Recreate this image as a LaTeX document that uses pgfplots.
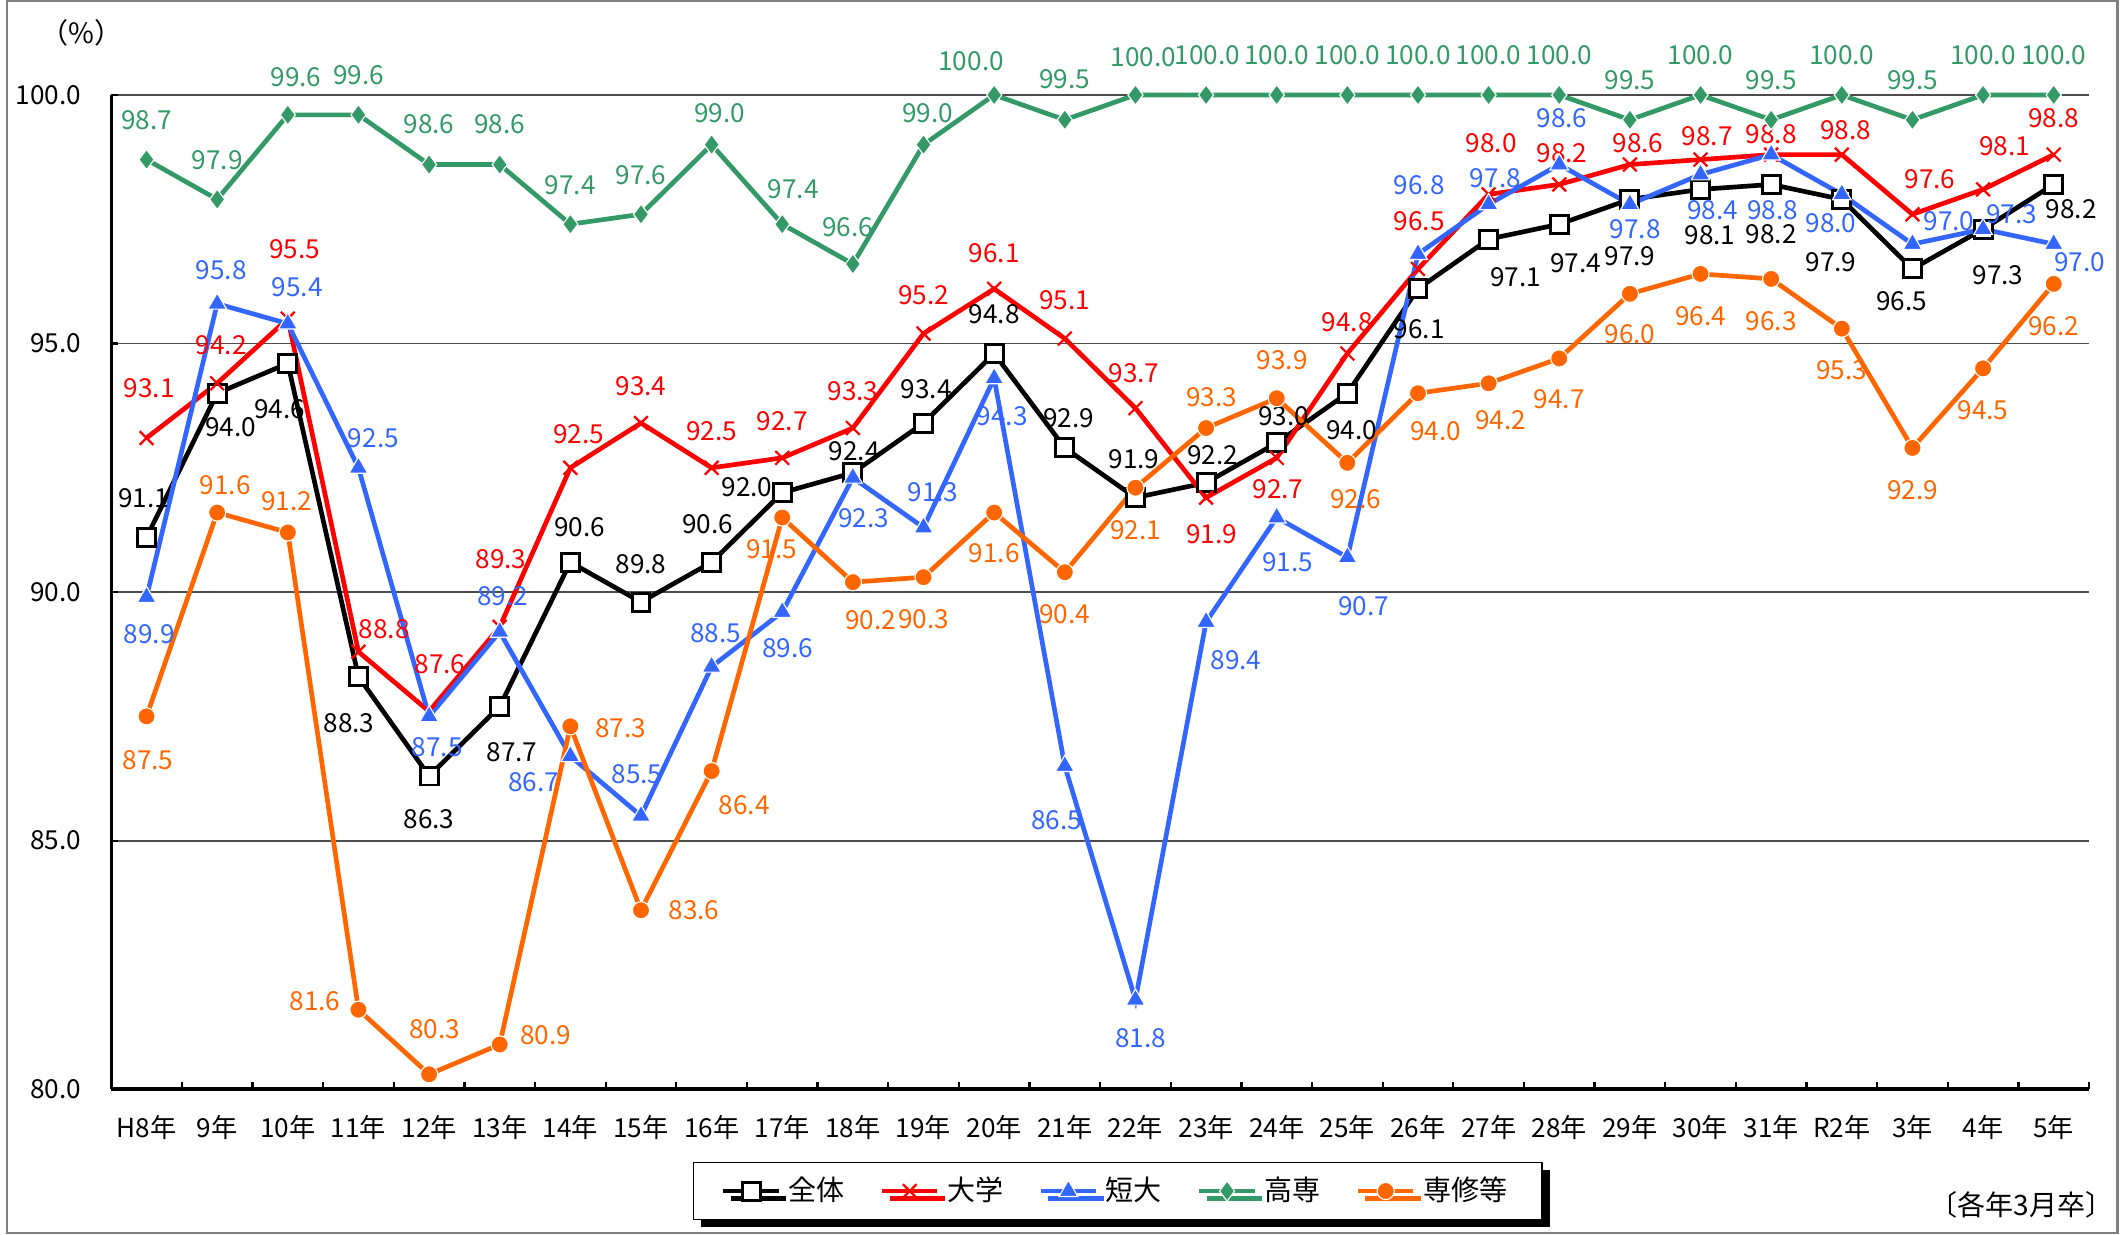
\documentclass[border=0pt]{standalone}
\usepackage{fontspec}
\setmainfont{Noto Sans CJK JP}
\usepackage{pgfplots}
\usepackage{pgfplotstable}
\pgfplotsset{compat=1.18}
\usetikzlibrary{shadows}
\definecolor{cRed}{HTML}{FF0000}
\definecolor{cBlue}{HTML}{3366FF}
\definecolor{cGreen}{HTML}{339966}
\definecolor{cOrange}{HTML}{FF6600}

\pgfplotstableread{
x y dx up
0 91.1 -2 29
1 94.0 10 -25
2 94.6 -6 -34
3 88.3 -7 -34
4 86.3 0 -32
5 87.7 9 -34
6 90.6 7 26
7 89.8 0 28
8 90.6 -3 28
9 92.0 -26 4
10 92.4 1 16
11 93.4 2 25
12 94.8 0 29
13 92.9 3 22
14 91.9 -1 28
15 92.2 5 20
16 93.0 5 20
17 94.0 3 -27
18 96.1 1 -30
19 97.1 20 -28
20 97.4 12 -29
21 97.9 0 -42
22 98.1 7 -34
23 98.2 0 -37
24 97.9 -8 -46
25 96.5 -8 -24
26 97.3 11 -34
27 98.2 13 -18
}\tblAll

\pgfplotstableread{
x y dx up
0 93.1 2 37
1 94.2 3 28
2 95.5 5 51
3 88.8 19 17
4 87.6 8 35
5 89.3 1 50
6 92.5 6 25
7 93.4 0 27
8 92.5 0 27
9 92.7 0 27
10 93.3 0 27
11 95.2 0 28
12 96.1 0 26
13 95.1 0 28
14 93.7 -1 26
15 91.9 4 -27
16 92.7 1 -23
17 94.8 0 23
18 96.5 1 35
19 98.0 2 38
20 98.2 2 23
21 98.6 6 16
22 98.7 5 17
23 98.8 0 15
24 98.8 3 18
25 97.6 13 26
26 98.1 16 32
27 98.8 0 27
}\tblUniv

\pgfplotstableread{
x y dx up
0 89.9 2 -27
1 95.8 3 25
2 95.4 7 27
3 92.5 11 22
4 87.5 6 -23
5 89.2 2 26
6 86.7 -27 -19
7 85.5 -3 31
8 88.5 3 25
9 89.6 4 -27
10 92.3 8 -30
11 91.3 7 26
12 94.3 6 -28
13 86.5 -6 -40
14 81.8 4 -28
15 89.4 22 -28
16 91.5 8 -33
17 90.7 12 -36
18 96.8 1 51
19 97.8 5 19
20 98.6 2 34
21 97.8 4 -18
22 98.4 9 -26
23 98.8 1 -41
24 98.0 -8 -21
25 97.0 27 17
26 97.3 21 11
27 97.0 19 -13
}\tblJC

\pgfplotstableread{
x y dx up
0 98.7 0 29
1 97.9 0 29
2 99.6 6 28
3 99.6 0 29
4 98.6 0 30
5 98.6 0 30
6 97.4 0 29
7 97.6 0 29
8 99.0 6 23
9 97.4 8 26
10 96.6 -4 27
11 99.0 3 23
12 100.0 -17 25
13 99.5 0 30
14 100.0 6 28
15 100.0 1 29
16 100.0 0 29
17 100.0 0 29
18 100.0 0 29
19 100.0 0 29
20 100.0 0 29
21 99.5 0 29
22 100.0 0 29
23 99.5 0 29
24 100.0 0 29
25 99.5 0 29
26 100.0 0 29
27 100.0 0 29
}\tblKosen

\pgfplotstableread{
x y dx up
0 87.5 1 -32
1 91.6 6 20
2 91.2 -1 23
3 81.6 -32 6
4 80.3 4 33
5 80.9 34 7
6 87.3 37 -1
7 83.6 39 0
8 86.4 24 -25
9 91.5 -8 -23
10 90.2 13 -28
11 90.3 0 -31
12 91.6 0 -30
13 90.4 0 -31
14 92.1 0 -31
15 93.3 4 23
16 93.9 4 28
17 92.6 6 -27
18 94.0 13 -28
19 94.2 9 -27
20 94.7 0 -30
21 96.0 0 -30
22 96.4 0 -31
23 96.3 0 -31
24 95.3 0 -31
25 92.9 0 -31
26 94.5 0 -31
27 96.2 0 -31
}\tblSen

\begin{document}
\begin{tikzpicture}
\path[use as bounding box] (-1.0459,-1.3648) rectangle (18.954,10.242);
\begin{axis}[
  at={(0,0)}, anchor=south west,
  scale only axis,
  width=18.597cm, height=9.349cm,
  xmin=-0.5, xmax=27.5, ymin=80, ymax=100,
  clip=false,
  axis x line*=bottom, axis y line*=left,
  x axis line style={-, line width=1pt, black},
  y axis line style={-, line width=0.8pt, black},
  /pgf/number format/assume math mode=true,
  xtick={0,...,27},
  xticklabels={H8年,9年,10年,11年,12年,13年,14年,15年,16年,17年,18年,19年,20年,21年,22年,23年,24年,25年,26年,27年,28年,29年,30年,31年,R2年,3年,4年,5年},
  minor xtick={-0.5,0.5,...,27.5},
  major x tick style={draw=none},
  minor x tick style={draw=black, line width=0.6pt},
  minor tick length=0.07cm,
  ytick={80,85,90,95,100},
  y tick style={draw=black, line width=0.6pt},
  major tick length=0.065cm,
  tick align=inside,
  ymajorgrids,
  major grid style={line width=0.5pt, color=black!70},
  tick label style={font=\fontsize{7}{8}\selectfont},
  xticklabel style={anchor=center, yshift=-0.36cm},
  yticklabel style={anchor=east, xshift=-0.16cm, /pgf/number format/.cd, fixed, fixed zerofill, precision=1},
  legend columns=5,
  legend style={at={(0.509,-0.1024)}, anchor=center, draw=black, line width=0.5pt, fill=white,
    font=\fontsize{7.5}{9}\selectfont, inner xsep=0.26cm, inner ysep=0.06cm,
    drop shadow={shadow xshift=0.07cm, shadow yshift=-0.07cm, fill=black, opacity=1},
    /tikz/every even column/.append style={column sep=0.26cm}},
  legend image code/.code={
    \draw[mark repeat=2, mark phase=2, #1] plot coordinates {(0cm,0cm) (0.26cm,0cm) (0.52cm,0cm)};
  },
  every node near coord/.append style={font=\fontsize{7}{8}\selectfont, anchor=center, inner sep=0pt,
    xshift=\dx*0.012755cm, yshift=\up*0.012755cm},
  nodes near coords={\pgfmathprintnumber[fixed,fixed zerofill,precision=1]{\pgfplotspointmeta}},
  point meta=y,
  visualization depends on={\thisrow{dx}\as\dx},
  visualization depends on={\thisrow{up}\as\up},
]
\addplot[black, line width=1.25pt, mark=square*, mark size=2.4pt,
  mark options={fill=white, draw=black, line width=0.8pt},
  nodes near coords style={black}] table[x=x,y=y] {\tblAll};
\addlegendentry{全体}
\addplot[cRed, line width=1.25pt, mark=x, mark size=2.6pt,
  mark options={line width=0.6pt},
  nodes near coords style={cRed}] table[x=x,y=y] {\tblUniv};
\addlegendentry{大学}
\addplot[cBlue, line width=1.25pt, mark=triangle*, mark size=2.9pt,
  mark options={fill=cBlue, draw=white, line width=0.3pt},
  nodes near coords style={cBlue}] table[x=x,y=y] {\tblJC};
\addlegendentry{短大}
\addplot[cGreen, line width=1.25pt, mark=diamond*, mark size=2.7pt,
  mark options={fill=cGreen, draw=white, line width=0.3pt},
  nodes near coords style={cGreen}] table[x=x,y=y] {\tblKosen};
\addlegendentry{高専}
\addplot[cOrange, line width=1.25pt, mark=*, mark size=2.3pt,
  mark options={fill=cOrange, draw=white, line width=0.3pt},
  nodes near coords style={cOrange}] table[x=x,y=y] {\tblSen};
\addlegendentry{専修等}
\end{axis}
\draw[black!50, line width=0.6pt] (-0.982,-1.352) rectangle (18.864,10.229);
\node[font=\fontsize{7.5}{9}\selectfont] at (-0.28,9.93) {（\%）};
\node[font=\fontsize{7.5}{9}\selectfont] at (17.96,-1.084) {〔各年3月卒〕};
\end{tikzpicture}
\end{document}
